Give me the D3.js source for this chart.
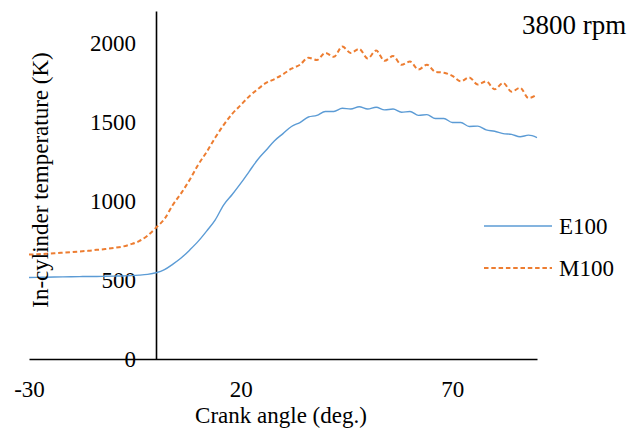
<!DOCTYPE html>
<html>
<head>
<meta charset="utf-8">
<script src="https://cdn.jsdelivr.net/npm/d3@7/dist/d3.min.js"></script>
<style>
html, body { margin: 0; padding: 0; background: #fff; }
svg text { font-family: "Liberation Serif", "Times New Roman", serif; fill: #000; }
</style>
</head>
<body>
<svg id="chart" width="634" height="431"></svg>
<script>
const crankAngle = [-30,-28,-26,-24,-22,-20,-18,-16,-14,-12,-10,-8,-6,-4,-2,0,2,4,6,8,10,12,14,16,18,20,22,24,26,28,30,32,34,36,38,40,42,44,46,48,50,52,54,56,58,60,62,64,66,68,70,72,74,76,78,80,82,84,86,88,90];
const e100 = [515,516,517,518,519,520,521,522,522,523,524,525,527,530,535,545,565,600,640,690,745,810,880,975,1040,1110,1185,1260,1320,1380,1425,1470,1495,1530,1540,1565,1565,1585,1580,1595,1580,1592,1575,1580,1560,1565,1540,1545,1520,1520,1495,1495,1470,1472,1448,1440,1425,1420,1405,1415,1400];
const m100 = [660,662,665,668,672,676,680,684,690,695,702,710,725,745,780,830,885,975,1050,1135,1230,1310,1400,1480,1550,1605,1660,1705,1745,1770,1800,1835,1860,1905,1890,1935,1910,1975,1935,1960,1900,1950,1885,1915,1860,1880,1830,1860,1815,1810,1790,1755,1780,1735,1755,1705,1745,1690,1715,1650,1672];
const xTicks = [-30, 20, 70];
const yTicks = [0, 500, 1000, 1500, 2000];
const seriesNames = ["E100", "M100"];

const svg = d3.select("#chart");
const x = d3.scaleLinear().domain([-30, 90]).range([29, 537]);
const y = d3.scaleLinear().domain([0, 2200]).range([359, 11]);
const fmt = (d) => String(d);

// Y axis at crank angle 0
const yAxis = svg.append("g")
  .attr("transform", `translate(${x(0)},0)`)
  .call(d3.axisLeft(y).tickValues(yTicks).tickSize(0).tickPadding(20).tickFormat(fmt));
yAxis.select(".domain").attr("stroke", "#000").attr("stroke-width", 1.6);
yAxis.selectAll("text").style("font-size", "23px").style("font-family", "Liberation Serif, serif").attr("dy", "0.33em");

// X axis at 0 K
const xAxis = svg.append("g")
  .attr("transform", `translate(0,${y(0)})`)
  .call(d3.axisBottom(x).tickValues(xTicks).tickSize(0).tickPadding(22).tickFormat(fmt));
xAxis.select(".domain").attr("stroke", "#000").attr("stroke-width", 1.6);
xAxis.selectAll("text").style("font-size", "23px").style("font-family", "Liberation Serif, serif");

const line = d3.line().x((d) => x(d[0])).y((d) => y(d[1])).curve(d3.curveMonotoneX);

svg.append("path")
  .datum(crankAngle.map((a, i) => [a, e100[i]]))
  .attr("fill", "none").attr("stroke", "#5B9BD5").attr("stroke-width", 1.4)
  .attr("d", line);

svg.append("path")
  .datum(crankAngle.map((a, i) => [a, m100[i]]))
  .attr("fill", "none").attr("stroke", "#ED7D31").attr("stroke-width", 2)
  .attr("stroke-dasharray", "4.5,2.8")
  .attr("d", line);

// Axis titles
svg.append("text").attr("x", 281).attr("y", 423).attr("text-anchor", "middle")
  .style("font-size", "23px").text("Crank angle (deg.)");
svg.append("text").attr("transform", "translate(48,180) rotate(-90)").attr("text-anchor", "middle")
  .style("font-size", "23px").text("In-cylinder temperature (K)");

// Annotation
svg.append("text").attr("x", 522).attr("y", 34).style("font-size", "27px").text("3800 rpm");

// Legend
const legend = [
  { name: seriesNames[0], color: "#5B9BD5", dash: null, w: 1.4, y: 226 },
  { name: seriesNames[1], color: "#ED7D31", dash: "4.5,2.8", w: 2, y: 268 }
];
legend.forEach((l) => {
  svg.append("line").attr("x1", 484).attr("x2", 552).attr("y1", l.y).attr("y2", l.y)
    .attr("stroke", l.color).attr("stroke-width", l.w).attr("stroke-dasharray", l.dash);
  svg.append("text").attr("x", 559).attr("y", l.y + 8).style("font-size", "23px").text(l.name);
});
</script>
</body>
</html>
